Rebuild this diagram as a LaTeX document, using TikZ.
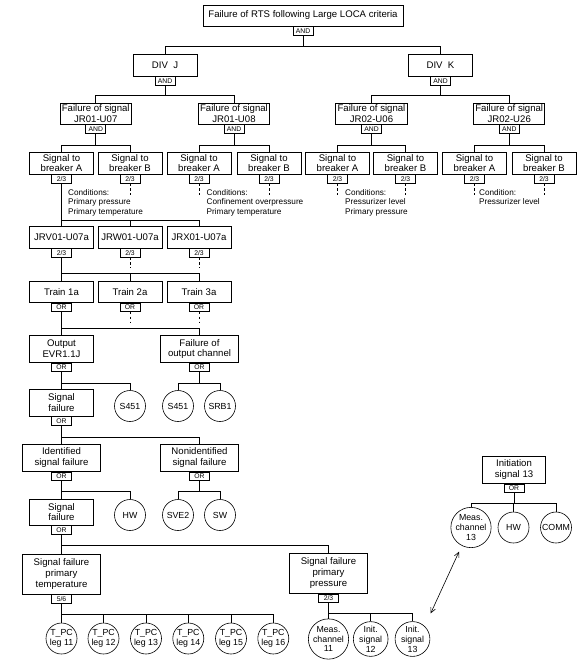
\documentclass[tikz,border=0pt]{standalone}
\usepackage{fontspec}
\setmainfont{Liberation Sans}
\usetikzlibrary{arrows.meta}
\begin{document}
\begin{tikzpicture}[x=1pt,y=-1pt,
  link/.style={line width=0.6pt},
  stub/.style={line width=0.6pt, dash pattern=on 2.5pt off 2.5pt},
  box/.style={draw, line width=0.6pt, rectangle, inner sep=0pt, align=center, fill=white,
    font=\fontsize{9.6}{10.8}\selectfont},
  sz/.style 2 args={minimum width=#1pt, minimum height=#2pt},
  gate/.style={draw, line width=0.6pt, rectangle, inner sep=0pt, minimum width=20pt, minimum height=8.5pt,
    fill=white, anchor=north, font=\fontsize{6.8}{6.8}\selectfont},
  ev/.style={draw, line width=0.6pt, circle, inner sep=0pt, minimum size=31pt, align=center,
    font=\fontsize{8.8}{9.9}\selectfont},
  cond/.style={anchor=north west, inner sep=0pt, align=left, font=\fontsize{8.2}{9.6}\selectfont}]
\useasboundingbox (0,0) rectangle (587,662);

% ---- top
\node[box, sz={200}{21}] (top) at (303,15.5) {Failure of RTS following Large LOCA criteria};
\node[gate] (topg) at (top.south) {AND};
\node[box, sz={64}{22}] (dj) at (165,65) {DIV~~J};
\node[gate] (djg) at (dj.south) {AND};
\node[box, sz={64}{22}] (dk) at (440.5,65) {DIV~~K};
\node[gate] (dkg) at (dk.south) {AND};

% ---- failure of signal
\node[box, sz={71}{21}] (j7) at (95.75,113.5) {Failure of signal\\JR01-U07};
\node[gate] (j7g) at (j7.south) {AND};
\node[box, sz={71}{21}] (j8) at (234,113.5) {Failure of signal\\JR01-U08};
\node[gate] (j8g) at (j8.south) {AND};
\node[box, sz={72}{21}] (k6) at (371.5,113.5) {Failure of signal\\JR02-U06};
\node[gate] (k6g) at (k6.south) {AND};
\node[box, sz={71}{21}] (k26) at (509.25,113.5) {Failure of signal\\JR02-U26};
\node[gate] (k26g) at (k26.south) {AND};

% ---- breakers
\node[box, sz={64}{22}] (j7a) at (61.5,163) {Signal to\\breaker A};
\node[gate] (j7ag) at (j7a.south) {2/3};
\node[box, sz={64}{22}] (j7b) at (130,163) {Signal to\\breaker B};
\node[gate] (j7bg) at (j7b.south) {2/3};
\node[box, sz={64}{22}] (j8a) at (199,163) {Signal to\\breaker A};
\node[gate] (j8ag) at (j8a.south) {2/3};
\node[box, sz={64}{22}] (j8b) at (269,163) {Signal to\\breaker B};
\node[gate] (j8bg) at (j8b.south) {2/3};
\node[box, sz={64}{22}] (k6a) at (337.5,163) {Signal to\\breaker A};
\node[gate] (k6ag) at (k6a.south) {2/3};
\node[box, sz={64}{22}] (k6b) at (405.5,163) {Signal to\\breaker B};
\node[gate] (k6bg) at (k6b.south) {2/3};
\node[box, sz={64}{22}] (k26a) at (474.5,163) {Signal to\\breaker A};
\node[gate] (k26ag) at (k26a.south) {2/3};
\node[box, sz={64}{22}] (k26b) at (544,163) {Signal to\\breaker B};
\node[gate] (k26bg) at (k26b.south) {2/3};

% ---- conditions
\node[cond] (c7) at (68,189) {Conditions:\\Primary pressure\\Primary temperature};
\node[cond] (c8) at (206.5,189) {Conditions:\\Confinement overpressure\\Primary temperature};
\node[cond] (c6) at (345,189) {Conditions:\\Pressurizer level\\Primary pressure};
\node[cond] (c26) at (479,189) {Condition:\\Pressurizer level};

% ---- JR level
\node[box, sz={64}{22}] (jrv) at (61.5,237) {JRV01-U07a};
\node[gate] (jrvg) at (jrv.south) {2/3};
\node[box, sz={64}{22}] (jrw) at (130,237) {JRW01-U07a};
\node[gate] (jrwg) at (jrw.south) {2/3};
\node[box, sz={64}{22}] (jrx) at (199,237) {JRX01-U07a};
\node[gate] (jrxg) at (jrx.south) {2/3};

% ---- trains
\node[box, sz={64}{20.5}] (tr1) at (61.5,292) {Train 1a};
\node[gate] (tr1g) at (tr1.south) {OR};
\node[box, sz={64}{20.5}] (tr2) at (130,292) {Train 2a};
\node[gate] (tr2g) at (tr2.south) {OR};
\node[box, sz={64}{20.5}] (tr3) at (199,292) {Train 3a};
\node[gate] (tr3g) at (tr3.south) {OR};

% ---- output
\node[box, sz={64}{26.5}] (out) at (61.5,349) {Output\\EVR1.1J};
\node[gate] (outg) at (out.south) {OR};
\node[box, sz={77.5}{26.5}] (foc) at (199.5,349) {Failure of\\output channel};
\node[gate] (focg) at (foc.south) {OR};

\node[box, sz={64}{27}] (sf1) at (61.5,402.5) {Signal\\failure};
\node[gate] (sf1g) at (sf1.south) {OR};
\node[ev] (s451a) at (130,406) {S451};
\node[ev] (s451b) at (178,406) {S451};
\node[ev] (srb1) at (220,406) {SRB1};

\node[box, sz={78.5}{27}] (isf) at (61.5,457.7) {Identified\\signal failure};
\node[gate] (isfg) at (isf.south) {OR};
\node[box, sz={78.5}{27}] (nsf) at (199.5,457.7) {Nonidentified\\signal failure};
\node[gate] (nsfg) at (nsf.south) {OR};

\node[box, sz={64}{26}] (sf2) at (61.5,512) {Signal\\failure};
\node[gate] (sf2g) at (sf2.south) {OR};
\node[ev] (hw1) at (130,515) {HW};
\node[ev] (sve2) at (178,515) {SVE2};
\node[ev] (sw) at (220,515) {SW};

\node[box, sz={78.5}{40}] (spt) at (61.5,574) {Signal failure\\primary\\temperature};
\node[gate] (sptg) at (spt.south) {5/6};
\node[box, sz={78.5}{40}] (spp) at (328.5,573.3) {Signal failure\\primary\\pressure};
\node[gate] (sppg) at (spp.south) {2/3};

\node[ev] (t11) at (61.5,638.5) {T\_PC\\leg 11};
\node[ev] (t12) at (103.5,638.5) {T\_PC\\leg 12};
\node[ev] (t13) at (146,638.5) {T\_PC\\leg 13};
\node[ev] (t14) at (188.3,638.5) {T\_PC\\leg 14};
\node[ev] (t15) at (231,638.5) {T\_PC\\leg 15};
\node[ev] (t16) at (273.3,638.5) {T\_PC\\leg 16};

\node[ev] (m11) at (328.5,639) {Meas.\\channel\\11};
\node[ev] (i12) at (370.7,639) {Init.\\signal\\12};
\node[ev] (i13) at (412.5,639) {Init.\\signal\\13};

\node[box, sz={63.5}{27}] (is13) at (514,469.7) {Initiation\\signal 13};
\node[gate] (is13g) at (is13.south) {OR};
\node[ev] (m13) at (471,527.5) {Meas.\\channel\\13};
\node[ev] (hw2) at (513.5,527.5) {HW};
\node[ev] (comm) at (556,527.5) {COMM};

\coordinate (arA) at (430.7,613.3);
\coordinate (arB) at (459,551.7);
\draw[link, {Straight Barb[length=5pt,width=5pt]}-{Straight Barb[length=5pt,width=5pt]}] (arA) -- (arB);

% ---- connectors
\draw[link] (topg.south) -- (topg.south |- 0,46);
\draw[link] (dj.north) |- (dk.north |- 0,46) -- (dk.north);

\draw[link] (djg.south) -- (djg.south |- 0,95);
\draw[link] (j7.north) |- (j8.north |- 0,95) -- (j8.north);
\draw[link] (dkg.south) -- (dkg.south |- 0,95);
\draw[link] (k6.north) |- (k26.north |- 0,95) -- (k26.north);

\draw[link] (j7g.south) -- (j7g.south |- 0,145);
\draw[link] (j7a.north) |- (j7b.north |- 0,145) -- (j7b.north);
\draw[link] (j8g.south) -- (j8g.south |- 0,145);
\draw[link] (j8a.north) |- (j8b.north |- 0,145) -- (j8b.north);
\draw[link] (k6g.south) -- (k6g.south |- 0,145);
\draw[link] (k6a.north) |- (k6b.north |- 0,145) -- (k6b.north);
\draw[link] (k26g.south) -- (k26g.south |- 0,145);
\draw[link] (k26a.north) |- (k26b.north |- 0,145) -- (k26b.north);

\draw[stub] (j7bg.south) -- ++(0,12);
\draw[stub] (j8ag.south) -- ++(0,12);
\draw[stub] (j8bg.south) -- ++(0,12);
\draw[stub] (k6ag.south) -- ++(0,12);
\draw[stub] (k6bg.south) -- ++(0,12);
\draw[stub] (k26ag.south) -- ++(0,12);
\draw[stub] (k26bg.south) -- ++(0,12);

\draw[link] (j7ag.south) -- (jrv.north);
\draw[link] (jrv.north |- 0,220) -| (jrx.north);
\draw[link] (jrw.north) -- (jrw.north |- 0,220);

\draw[link] (jrvg.south) -- (tr1.north);
\draw[link] (tr1.north |- 0,273) -| (tr3.north);
\draw[link] (tr2.north) -- (tr2.north |- 0,273);
\draw[stub] (jrwg.south) -- ++(0,11);
\draw[stub] (jrxg.south) -- ++(0,11);

\draw[link] (tr1g.south) -- (out.north);
\draw[link] (out.north |- 0,328) -| (foc.north);
\draw[stub] (tr2g.south) -- ++(0,11);
\draw[stub] (tr3g.south) -- ++(0,11);

\draw[link] (outg.south) -- (sf1.north);
\draw[link] (sf1.north |- 0,383) -| (s451a.north);
\draw[link] (focg.south) -- (focg.south |- 0,383);
\draw[link] (s451b.north) |- (srb1.north |- 0,383) -- (srb1.north);

\draw[link] (sf1g.south) -- (isf.north);
\draw[link] (isf.north |- 0,437) -| (nsf.north);

\draw[link] (isfg.south) -- (sf2.north);
\draw[link] (sf2.north |- 0,491) -| (hw1.north);
\draw[link] (nsfg.south) -- (nsfg.south |- 0,491);
\draw[link] (sve2.north) |- (sw.north |- 0,491) -- (sw.north);

\draw[link] (sf2g.south) -- (spt.north);
\draw[link] (spt.north |- 0,545.3) -| (spp.north);

\draw[link] (sptg.south) -- (t11.north);
\draw[link] (t11.north |- 0,614) -| (t16.north);
\draw[link] (t12.north) -- (t12.north |- 0,614);
\draw[link] (t13.north) -- (t13.north |- 0,614);
\draw[link] (t14.north) -- (t14.north |- 0,614);
\draw[link] (t15.north) -- (t15.north |- 0,614);

\draw[link] (sppg.south) -- (m11.north);
\draw[link] (m11.north |- 0,613.5) -| (i13.north);
\draw[link] (i12.north) -- (i12.north |- 0,613.5);

\draw[link] (is13g.south) -- (is13g.south |- 0,503);
\draw[link] (m13.north) |- (comm.north |- 0,503) -- (comm.north);
\draw[link] (hw2.north) -- (hw2.north |- 0,503);
\end{tikzpicture}
\end{document}
